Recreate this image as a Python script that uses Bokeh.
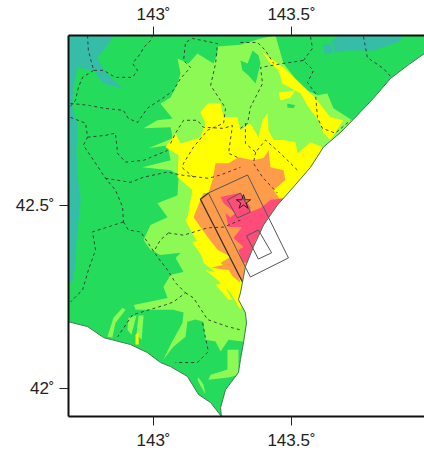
from bokeh.plotting import figure
from bokeh.models import Range1d, LinearAxis, FixedTicker
from bokeh.embed import file_html
from bokeh.resources import INLINE

LON_MIN, LON_MAX = 142.692, 143.982
LAT_MIN, LAT_MAX = 41.924, 42.962
X_TICKS = [143, 143.5]
Y_TICKS = [42, 42.5]
X_LABELS = {143: "143˚", 143.5: "143.5˚"}
Y_LABELS = {42: "42˚", 42.5: "42.5˚"}

COAST_E = [(143.982,42.913),(143.920,42.880),(143.859,42.845),(143.797,42.791),(143.739,42.745),(143.678,42.698),
 (143.616,42.658),(143.569,42.603),(143.507,42.549),(143.449,42.500),(143.399,42.446),(143.362,42.386),
 (143.333,42.332),(143.322,42.288),(143.315,42.261),(143.308,42.242),(143.333,42.207),(143.337,42.179),
 (143.326,42.125),(143.315,42.079),(143.308,42.044),(143.261,41.997),(143.243,41.948),(143.246,41.924)]
COAST_W = [(143.246,41.924),(143.207,41.962),(143.163,41.984),(143.123,42.033),(143.062,42.060),(143.025,42.071),
 (142.978,42.098),(142.917,42.120),(142.819,42.139),(142.761,42.169),(142.692,42.182)]

TEAL_W = [(142.692,42.962),(142.855,42.962),(142.833,42.935),(142.797,42.902),(142.819,42.867),(142.888,42.818),
 (142.819,42.831),(142.783,42.867),(142.725,42.875),(142.710,42.821),(142.706,42.772),(142.725,42.717),
 (142.721,42.649),(142.725,42.576),(142.736,42.514),(142.721,42.405),(142.717,42.337),(142.706,42.291),(142.692,42.283)]
TEAL_E = [(143.670,42.962),(143.906,42.962),(143.884,42.943),(143.797,42.921),(143.703,42.921),(143.659,42.916),(143.645,42.945)]
TEAL_E2 = [(143.612,42.935),(143.641,42.941),(143.652,42.916),(143.623,42.910)]

LIGHT = [(143.232,42.932),(143.315,42.937),(143.388,42.954),(143.442,42.962),(143.471,42.886),(143.514,42.845),
 (143.558,42.812),(143.594,42.799),(143.630,42.804),(143.652,42.764),(143.703,42.739),(143.750,42.717),
 (143.641,42.514),(143.460,42.242),(143.388,42.120),(143.322,42.128),(143.272,42.133),(143.243,42.101),
 (143.225,42.128),(143.188,42.133),(143.181,42.182),(143.152,42.188),(143.123,42.182),(143.116,42.141),
 (143.072,42.114),(143.036,42.079),(143.062,42.120),(143.105,42.179),(143.109,42.207),(143.072,42.215),
 (143.025,42.215),(142.935,42.215),(142.928,42.228),(143.051,42.247),(143.036,42.277),(143.062,42.310),
 (143.109,42.318),(143.080,42.356),(143.098,42.370),(143.025,42.364),(142.989,42.378),(142.964,42.405),
 (142.989,42.446),(143.051,42.467),(143.014,42.505),(143.087,42.527),(143.091,42.582),(143.062,42.595),
 (142.960,42.603),(143.062,42.622),(143.051,42.663),(142.982,42.655),(143.069,42.682),(143.062,42.712),
 (142.964,42.709),(143.014,42.731),(143.069,42.736),(143.025,42.777),(143.062,42.793),(143.087,42.831),
 (143.098,42.859),(143.087,42.899),(143.127,42.886),(143.159,42.913),(143.217,42.886),(143.232,42.913)]
DARK_A = [(143.315,42.894),(143.341,42.886),(143.359,42.921),(143.380,42.908),(143.388,42.886),(143.370,42.831),(143.344,42.853),(143.322,42.867)]
DARK_B = [(143.485,42.777),(143.514,42.772),(143.507,42.764),(143.485,42.766)]
STRIP_1 = [(142.833,42.141),(142.855,42.193),(142.888,42.220),(142.899,42.215),(142.862,42.179),(142.851,42.139)]
STRIP_2 = [(142.909,42.193),(142.938,42.199),(142.920,42.147),(142.906,42.160)]
STRIP_3 = [(142.946,42.199),(142.964,42.199),(142.957,42.133),(142.938,42.147)]
STRIP_4 = [(143.268,42.106),(143.308,42.106),(143.308,42.038),(143.272,42.030),(143.199,42.024),(143.207,42.038),(143.268,42.052)]
STRIP_5 = [(143.159,42.024),(143.188,41.984),(143.181,42.011),(143.163,42.030)]

YELLOW_BAND = [(143.388,42.921),(143.435,42.894),(143.471,42.875),(143.558,42.812),(143.587,42.791),(143.641,42.739),
 (143.688,42.731),(143.641,42.677),(143.616,42.696),(143.598,42.731),(143.562,42.766),(143.533,42.804),
 (143.467,42.831),(143.453,42.867),(143.424,42.886),(143.395,42.916)]
YELLOW = [(143.196,42.777),(143.243,42.777),(143.254,42.739),(143.304,42.739),(143.315,42.704),(143.351,42.723),
 (143.380,42.685),(143.395,42.731),(143.413,42.750),(143.417,42.704),(143.435,42.677),(143.471,42.677),
 (143.514,42.671),(143.522,42.641),(143.569,42.671),(143.612,42.658),(143.587,42.609),(143.533,42.527),
 (143.424,42.405),(143.351,42.269),(143.315,42.215),(143.279,42.261),(143.232,42.296),(143.188,42.323),
 (143.225,42.318),(143.181,42.342),(143.170,42.383),(143.116,42.459),(143.123,42.467),(143.141,42.541),
 (143.087,42.576),(143.091,42.636),(143.043,42.658),(143.080,42.696),(143.098,42.668),(143.170,42.685),
 (143.188,42.723),(143.170,42.753)]
YELLOW_SPOT_1 = [(142.935,42.147),(142.946,42.152),(142.946,42.120),(142.935,42.120)]
YELLOW_SPOT_2 = [(143.453,42.807),(143.514,42.812),(143.496,42.793),(143.460,42.785)]
YELLOW_FINGER_1 = [(143.141,42.399),(143.170,42.405),(143.214,42.337),(143.196,42.337)]
YELLOW_FINGER_2 = [(143.225,42.283),(143.250,42.288),(143.286,42.242),(143.272,42.242)]

ORANGE = [(143.225,42.614),(143.272,42.614),(143.308,42.630),(143.362,42.622),(143.399,42.628),(143.417,42.649),
 (143.424,42.603),(143.471,42.595),(143.478,42.568),(143.435,42.541),(143.460,42.514),(143.514,42.541),
 (143.460,42.473),(143.351,42.269),(143.322,42.296),(143.243,42.342),(143.279,42.359),(143.232,42.378),
 (143.196,42.413),(143.145,42.467),(143.170,42.514),(143.181,42.533),(143.199,42.533),(143.214,42.568)]
ORANGE_FINGER = [(143.207,42.329),(143.297,42.345),(143.315,42.288),(143.286,42.307),(143.272,42.323)]
RED = [(143.243,42.522),(143.272,42.527),(143.315,42.533),(143.351,42.495),(143.351,42.481),(143.388,42.492),
 (143.424,42.514),(143.478,42.519),(143.478,42.473),(143.399,42.432),(143.370,42.405),(143.341,42.342),
 (143.322,42.345),(143.308,42.378),(143.326,42.386),(143.290,42.410),(143.322,42.440),(143.272,42.440),
 (143.261,42.478),(143.279,42.467),(143.297,42.478),(143.254,42.505)]

FAULT_LINE = [(143.199,42.533),(143.170,42.516),(143.322,42.291)]
FAULT_BIG = [(143.199,42.533),(143.341,42.582),(143.489,42.356),(143.351,42.304),(143.199,42.533)]
FAULT_IN_1 = [(143.268,42.514),(143.315,42.533),(143.351,42.481),(143.304,42.465),(143.268,42.514)]
FAULT_IN_2 = [(143.337,42.416),(143.380,42.432),(143.428,42.370),(143.380,42.353),(143.337,42.416)]
EPICENTER_LON = [143.326]
EPICENTER_LAT = [42.508]

BOUNDARIES = [
 [(142.761,42.962),(142.764,42.921),(142.783,42.867),(142.819,42.867),(142.862,42.848),(142.924,42.848),(142.942,42.867),(142.924,42.886),(142.953,42.913),(142.964,42.929),(142.989,42.948),(142.996,42.959)],
 [(142.783,42.867),(142.743,42.848),(142.728,42.821),(142.717,42.785),(142.699,42.769)],
 [(142.699,42.777),(142.764,42.772),(142.819,42.764),(142.891,42.758),(142.909,42.736),(142.942,42.725),(142.978,42.764),(143.033,42.791),(143.072,42.812),(143.098,42.845),(143.134,42.875),(143.109,42.894),(143.116,42.943),(143.141,42.954),(143.232,42.940),(143.225,42.886),(143.207,42.826),(143.243,42.785),(143.261,42.764),(143.254,42.723),(143.196,42.704),(143.145,42.658),(143.109,42.614),(143.105,42.601),(143.145,42.576)],
 [(143.062,42.668),(143.080,42.696),(143.109,42.731),(143.159,42.731),(143.181,42.712),(143.254,42.709),(143.286,42.717),(143.272,42.641),(143.304,42.630)],
 [(142.699,42.739),(142.754,42.723),(142.761,42.685),(142.746,42.663),(142.783,42.622),(142.826,42.573),(142.862,42.541),(142.888,42.495),(142.891,42.454)],
 [(142.761,42.685),(142.826,42.690),(142.862,42.696),(142.870,42.641),(142.899,42.617),(142.964,42.622),(143.051,42.649)],
 [(142.826,42.573),(142.917,42.562),(142.964,42.576),(143.051,42.590),(143.098,42.582),(143.199,42.573),(143.243,42.582),(143.315,42.603)],
 [(142.891,42.454),(142.779,42.427),(142.790,42.378),(142.764,42.323),(142.743,42.269),(142.699,42.236)],
 [(142.891,42.454),(142.909,42.432),(142.953,42.427),(143.014,42.359),(143.051,42.323),(143.080,42.288),(143.116,42.261),(143.072,42.236),(143.043,42.228),(142.924,42.201),(142.870,42.141)],
 [(143.116,42.261),(143.145,42.247),(143.196,42.188),(143.268,42.169),(143.315,42.160)],
 [(143.178,42.179),(143.188,42.139),(143.199,42.101),(143.159,42.071),(143.080,42.071)],
 [(143.054,42.424),(143.109,42.418),(143.196,42.438),(143.254,42.440),(143.315,42.459)],
 [(143.054,42.424),(143.025,42.405),(143.000,42.372)],
 [(143.315,42.709),(143.341,42.723),(143.351,42.766),(143.395,42.831),(143.388,42.875),(143.471,42.886),(143.543,42.894),(143.580,42.867),(143.558,42.834),(143.587,42.804),(143.594,42.739),(143.612,42.709),(143.659,42.696),(143.714,42.731)],
 [(143.315,42.943),(143.377,42.943),(143.406,42.921),(143.435,42.886)],
 [(143.543,42.894),(143.576,42.927),(143.569,42.959)],
 [(143.761,42.959),(143.775,42.902),(143.833,42.872),(143.866,42.845)],
 [(143.333,42.723),(143.333,42.668),(143.370,42.644),(143.406,42.677),(143.460,42.641),(143.522,42.595)],
 [(143.370,42.644),(143.362,42.614),(143.395,42.576),(143.449,42.533)],
]

GREEN, LIGHTGREEN, YELLOWC, ORANGEC, REDC, TEALC = "#25DB5C", "#8CF955", "#FFFF00", "#FF9C4B", "#FF4C78", "#35BDA8"
INK = "#333333"


def xs(pts):
    return [a for a, _ in pts]


def ys(pts):
    return [b for _, b in pts]


p = figure(width=424, height=452, output_backend="svg", toolbar_location=None,
           x_range=Range1d(LON_MIN, LON_MAX), y_range=Range1d(LAT_MIN, LAT_MAX),
           min_border_left=68, min_border_right=0, min_border_top=35, min_border_bottom=35,
           outline_line_color=None, x_axis_location="below", y_axis_location="left")
p.grid.visible = False
top_axis = LinearAxis()
p.add_layout(top_axis, "above")
for ax, ticks, labels, standoff in ((p.below[0], X_TICKS, X_LABELS, 5), (top_axis, X_TICKS, X_LABELS, 3), (p.left[0], Y_TICKS, Y_LABELS, 5)):
    ax.ticker = FixedTicker(ticks=ticks)
    ax.major_label_overrides = labels
    ax.major_label_text_font = "Liberation Sans"
    ax.major_label_text_font_size = "17px"
    ax.major_label_text_color = "#222222"
    ax.major_tick_out = 9
    ax.major_tick_in = 0
    ax.minor_tick_out = 0
    ax.minor_tick_in = 0
    ax.axis_line_width = 2
    ax.axis_line_color = "#111111"
    ax.major_tick_line_color = "#222222"
    ax.major_label_standoff = standoff

land = [(LON_MIN, LAT_MAX), (LON_MAX, LAT_MAX)] + COAST_E + COAST_W[1:]
p.patch(xs(land), ys(land), color=GREEN, line_width=0)
for poly in (TEAL_W, TEAL_E, TEAL_E2):
    p.patch(xs(poly), ys(poly), color=TEALC, line_width=0)
for poly in (LIGHT, STRIP_1, STRIP_2, STRIP_3, STRIP_4, STRIP_5):
    p.patch(xs(poly), ys(poly), color=LIGHTGREEN, line_width=0)
for poly in (DARK_A, DARK_B):
    p.patch(xs(poly), ys(poly), color=GREEN, line_width=0)
for poly in (YELLOW, YELLOW_BAND, YELLOW_SPOT_1, YELLOW_SPOT_2, YELLOW_FINGER_1, YELLOW_FINGER_2):
    p.patch(xs(poly), ys(poly), color=YELLOWC, line_width=0)
for poly in (ORANGE, ORANGE_FINGER):
    p.patch(xs(poly), ys(poly), color=ORANGEC, line_width=0)
p.patch(xs(RED), ys(RED), color=REDC, line_width=0)

sea_e = COAST_E + [(LON_MAX, LAT_MIN)]
sea_w = COAST_W + [(LON_MIN, LAT_MIN)]
p.patch(xs(sea_e), ys(sea_e), color="white", line_width=0)
p.patch(xs(sea_w), ys(sea_w), color="white", line_width=0)
p.line(xs(COAST_E), ys(COAST_E), line_color="#3B7A4B", line_width=1)
p.line(xs(COAST_W), ys(COAST_W), line_color="#3B7A4B", line_width=1)

p.multi_line([xs(b) for b in BOUNDARIES], [ys(b) for b in BOUNDARIES],
             line_color=INK, line_width=0.9, line_dash="3 3")

p.line(xs(FAULT_BIG), ys(FAULT_BIG), line_color="#555555", line_width=1)
p.line(xs(FAULT_IN_1), ys(FAULT_IN_1), line_color="#555555", line_width=1)
p.line(xs(FAULT_IN_2), ys(FAULT_IN_2), line_color="#555555", line_width=1)
p.line(xs(FAULT_LINE), ys(FAULT_LINE), line_color="#333333", line_width=1.3)
p.scatter(EPICENTER_LON, EPICENTER_LAT, marker="star", size=15, fill_alpha=0, line_color="#222222", line_width=1)

open("out.html", "w").write(file_html(p, INLINE))
